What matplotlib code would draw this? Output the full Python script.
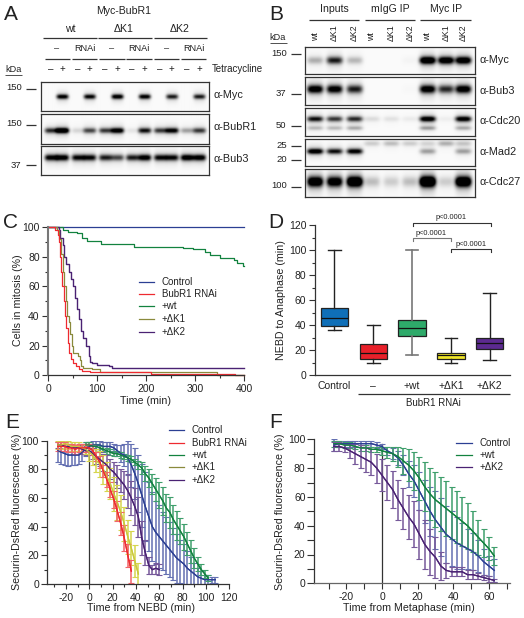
import numpy as np
import matplotlib
matplotlib.use('Agg')
import matplotlib.pyplot as plt
from matplotlib.ticker import MultipleLocator

plt.rcParams['font.family'] = ['Liberation Sans', 'DejaVu Sans']
plt.rcParams['axes.unicode_minus'] = False

W, H = 524, 618

# panel A blot, lane intensities
a_myc = [0, .9, 0, .85, 0, .95, 0, .9, 0, .75, 0, .75]
a_bubr1 = [.7, 1.2, .12, .6, .65, 1, .07, .8, .65, .9, .3, .65]
a_bub3 = [.9, .95, .85, .85, .75, .6, .75, .95, .85, .85, 1, .95]
# panel B blot
b_myc = [.25, .75, .22, 0, 0, .02, 1.2, 1.1, 1.1]
b_bub3 = [1, .95, .75, 0, 0, .01, 1, .7, 1]
b_cdc20 = [.8, .65, .7, .1, .08, .05, 1, .04, .95]
b_cdc20_low = [.2, .2, .25, 0, 0, 0, .3, 0, .25]
b_mad2 = [1, .8, .9, 0, 0, 0, .3, 0, .3]
b_mad2_up = [0, 0, 0, .15, .2, .15, .12, .25, .17]
b_cdc27 = [1.2, 1.1, 1.4, .2, .15, .2, 1.6, .15, 1.4]

# panel C survival steps
c_control_t = [0, 400]
c_control = [100, 100]
c_wt_t = [0, 30, 40, 60, 70, 80, 108, 175, 275, 295, 320, 330, 350, 380, 385, 398, 400]
c_wt = [100, 98, 97, 96, 93, 91, 89, 87, 86, 85, 83, 81, 79.5, 78, 76, 74, 74]
c_rnai_t = [0, 15, 20, 22, 25, 27, 29, 32, 35, 37, 40, 43, 47, 52, 57, 63, 70, 85, 210, 382, 400]
c_rnai = [100, 98, 95, 90, 80, 70, 60, 50, 40, 32, 22, 15, 11, 8, 6, 4, 3, 2, 1, 0, 0]
c_k1_t = [0, 18, 22, 26, 30, 33, 36, 38, 42, 45, 48, 52, 62, 65, 68, 72, 90, 107, 345, 400]
c_k1 = [100, 98, 92, 82, 70, 60, 50, 40, 36, 28, 20, 15, 13, 10, 6, 5, 4, 2, 0, 0]
c_k2_t = [0, 20, 22, 25, 30, 33, 37, 43, 47, 52, 55, 60, 63, 68, 72, 78, 83, 86, 90, 100, 125, 130, 400]
c_k2 = [100, 100, 98, 93, 88, 80, 75, 70, 65, 60, 52, 45, 38, 30, 25, 20, 13, 9, 8, 7, 6, 5, 5]

# panel D box stats
d_labels = ['Control', '–', '+wt', '+ΔK1', '+ΔK2']
d_low = [36, 10, 16, 10, 12]
d_q1 = [39, 13, 31, 13, 21]
d_med = [46, 18, 38, 16, 26]
d_q3 = [54, 25, 44, 18, 30]
d_high = [100, 40, 100, 30, 66]
d_colors = ['#0f6fb8', '#e8202a', '#2eaa6a', '#f0e62a', '#5c2a90']

# panel E, 3 min steps
e_control_t = list(range(-27, 109, 3))
e_control = [93, 92, 91, 90, 90, 90, 90, 92, 94, 96, 97, 97, 97, 96, 96, 96, 95, 93, 91, 90, 88, 83, 77, 70, 62, 54,
             47, 40, 36, 33, 30, 27, 24, 21, 18, 16, 14, 11, 9, 7, 5, 4, 3, 3, 3, 3]
e_control_err = [8, 8, 8, 8, 7, 7, 6, 6, 5, 3, 3, 3, 3, 3, 3, 3, 3, 4, 6, 8, 12, 15, 18, 20, 22, 24,
                 24, 24, 22, 22, 20, 20, 19, 18, 17, 15, 14, 12, 10, 8, 6, 5, 3, 3, 2, 2]
e_rnai_t = list(range(-27, 37, 3))
e_rnai = [96, 96, 96, 95, 95, 94, 95, 95, 95, 95, 93, 89, 85, 79, 73, 66, 59, 51, 42, 32, 20, 9]
e_rnai_err = [3, 3, 3, 3, 3, 3, 3, 3, 3, 3, 3, 3, 4, 4, 5, 5, 6, 7, 8, 9, 8, 8]
e_wt_t = list(range(-3, 103, 3))
e_wt = [97, 97, 96, 96, 95, 94, 93, 92, 91, 91, 90, 89, 88, 87, 85, 83, 81, 77, 74, 70, 66, 62, 58, 53, 50, 45, 41,
        37, 33, 28, 23, 18, 14, 10, 7, 4]
e_wt_err = [2, 2, 2, 2, 2, 2, 2, 2, 2, 2, 2, 2, 2, 2, 2, 3, 4, 5, 6, 7, 8, 9, 10, 10, 11, 10, 10, 9, 9, 8, 8, 7, 5, 4, 3, 2]
e_k1_t = list(range(-27, 43, 3))
e_k1 = [97, 97, 98, 97, 96, 96, 96, 95, 94, 92, 90, 86, 84, 80, 75, 70, 63, 57, 50, 42, 33, 25, 16, 7]
e_k1_err = [3, 3, 3, 3, 3, 3, 3, 3, 3, 6, 7, 8, 9, 10, 10, 11, 12, 12, 12, 12, 12, 12, 11, 8]
e_k2_t = list(range(-27, 61, 3))
e_k2 = [97, 97, 96, 96, 95, 95, 95, 94, 93, 93, 91, 89, 87, 85, 83, 80, 78, 75, 72, 69, 65, 60, 54, 47, 32, 22, 13, 10, 11, 10]
e_k2_err = [2, 2, 2, 2, 2, 2, 2, 3, 3, 3, 4, 5, 5, 6, 7, 7, 7, 8, 8, 10, 12, 12, 13, 14, 12, 9, 6, 3, 4, 4]

# panel F, 3 min steps
f_t = list(range(-27, 64, 3))
f_control = [96, 97, 97, 97, 97, 97, 97, 97, 96, 95, 92, 90, 87, 82, 76, 71, 64, 57, 50, 44, 39, 34, 31, 28, 26, 24, 22, 19, 15, 12, 9]
f_control_err = [4, 2, 2, 2, 2, 2, 2, 2, 2, 2, 3, 4, 5, 7, 9, 11, 13, 15, 17, 20, 20, 20, 19, 18, 16, 14, 13, 11, 9, 7, 8]
f_wt = [97, 97, 96, 96, 95, 94, 94, 93, 93, 92, 91, 90, 88, 85, 82, 78, 73, 67, 62, 58, 55, 52, 49, 46, 43, 40, 36, 32, 28, 24, 19]
f_wt_err = [2, 2, 2, 2, 2, 2, 2, 2, 2, 3, 4, 5, 7, 9, 11, 13, 15, 17, 18, 19, 19, 19, 18, 18, 17, 16, 14, 12, 10, 8, 6]
f_k2 = [95, 95, 94, 92, 90, 88, 86, 84, 80, 75, 70, 65, 58, 52, 46, 41, 34, 27, 22, 18, 12, 9, 8, 8, 8, 6, 6, 5, 4, 3, 2]
f_k2_err = [3, 3, 3, 5, 7, 8, 9, 9, 10, 11, 12, 13, 14, 14, 15, 16, 17, 17, 16, 14, 10, 5, 3, 3, 3, 3, 3, 2, 2, 2, 1]

BLUE, RED, GREEN, YELLOW, OLIVE, PURPLE = '#2b3f93', '#ee2a30', '#12823f', '#c9c93a', '#8a8a3c', '#4a2273'
TXT = '#222222'

fig = plt.figure(figsize=(W / 100, H / 100), dpi=100)


def px_ax(l, t, r, b):
    return fig.add_axes([l / W, 1 - b / H, (r - l) / W, (b - t) / H])


def blot(box, lanes, bands, lane_w=9):
    # bands: (y pixel, lane intensities, thickness)
    l, t, r, b = box
    ax = px_ax(l, t, r, b)
    xx, yy = np.meshgrid(np.linspace(l, r, 340), np.linspace(t, b, 120))
    img = np.zeros_like(xx)
    for y0, vals, thick in bands:
        for x0, v in zip(lanes, vals):
            px = np.exp(-((xx - x0) / lane_w) ** 4)
            py = np.exp(-((yy - y0) / thick) ** 2) + 0.18 * np.exp(-((yy - y0) / (thick * 2.4)) ** 2)
            img += v * px * py
    img = np.clip(1 - img * 1.05, 0, 1) * 0.98
    ax.imshow(img, cmap='gray', vmin=0, vmax=1, extent=[l, r, b, t], aspect='auto', interpolation='bilinear')
    ax.set_xticks([])
    ax.set_yticks([])
    for s in ax.spines.values():
        s.set_linewidth(0.9)
        s.set_color('#333333')


lanes_a = [50.7, 62, 77.7, 89.3, 105, 117, 132, 144.3, 160, 171.7, 186.7, 199]
lanes_b = [315.3, 334.7, 354.7, 372, 391.3, 410, 427.7, 446, 463.3]
blot((40.7, 81.7, 209.3, 111), lanes_a, [(97, a_myc, 2.3)], 6)
blot((40.7, 114.3, 209.3, 144), lanes_a, [(130.7, a_bubr1, 2.6)], 6.5)
blot((40.7, 145.7, 209.3, 175), lanes_a, [(158, a_bub3, 3)], 6.5)
blot((305.3, 46.7, 474.7, 74), lanes_b, [(60.7, b_myc, 3.5)], 8)
blot((305.3, 77.3, 474.7, 105), lanes_b, [(89.3, b_bub3, 4)], 8)
blot((305.3, 108.3, 474.7, 135.7), lanes_b, [(119, b_cdc20, 2.6), (128, b_cdc20_low, 2)], 8)
blot((305.3, 139, 474.7, 166.3), lanes_b, [(152, b_mad2, 2.6), (144.3, b_mad2_up, 2.5)], 8)
blot((305.3, 169.3, 474.7, 197.3), lanes_b, [(182, b_cdc27, 5)], 8)


def style(ax):
    ax.spines['top'].set_visible(False)
    ax.spines['right'].set_visible(False)
    for s in ['left', 'bottom']:
        ax.spines[s].set_linewidth(0.9)
        ax.spines[s].set_color('#333333')
    ax.tick_params(which='major', length=4.5, width=0.8, labelsize=7.5, pad=1.5, color='#333333', labelcolor=TXT)
    ax.tick_params(which='minor', length=2.5, width=0.8, color='#333333')
    ax.patch.set_alpha(0)


# C
ax = px_ax(48, 227.3, 244, 375.3)
ax.step(c_control_t, c_control, where='post', color=BLUE, lw=0.9, clip_on=False)
ax.step(c_wt_t, c_wt, where='post', color=GREEN, lw=0.9, clip_on=False)
ax.step(c_k2_t, c_k2, where='post', color=PURPLE, lw=1.0, clip_on=False)
ax.step(c_k1_t, c_k1, where='post', color=OLIVE, lw=0.9, clip_on=False)
ax.step(c_rnai_t, c_rnai, where='post', color=RED, lw=0.9, clip_on=False)
ax.set_xlim(0, 400)
ax.set_ylim(0, 100)
ax.xaxis.set_major_locator(MultipleLocator(100))
ax.xaxis.set_minor_locator(MultipleLocator(50))
ax.yaxis.set_major_locator(MultipleLocator(20))
ax.yaxis.set_minor_locator(MultipleLocator(10))
style(ax)
ax.spines['left'].set_linewidth(1.5)
ax.spines['left'].set_color('#777777')

# D
ax = px_ax(314.7, 225, 510, 375.3)
stats = []
for i in range(5):
    stats.append({'med': d_med[i], 'q1': d_q1[i], 'q3': d_q3[i], 'whislo': d_low[i], 'whishi': d_high[i], 'fliers': []})
bp = ax.bxp(stats, positions=range(1, 6), widths=0.7, patch_artist=True, showfliers=False,
            boxprops=dict(linewidth=0.9, edgecolor='#222222'),
            medianprops=dict(color='#111111', linewidth=0.9),
            whiskerprops=dict(color='#222222', linewidth=1.0),
            capprops=dict(color='#222222', linewidth=1.0), capwidths=0.33)
for patch, c in zip(bp['boxes'], d_colors):
    patch.set_facecolor(c)
for art in bp['whiskers'][4:6] + bp['caps'][4:6]:
    art.set_color('#777777')
    art.set_linewidth(1.2)
ax.set_xlim(0.494, 5.52)
ax.set_ylim(0, 120)
ax.set_xticks(range(1, 6))
ax.set_xticklabels(d_labels)
ax.yaxis.set_major_locator(MultipleLocator(20))
ax.yaxis.set_minor_locator(MultipleLocator(10))
style(ax)
ax.tick_params(axis='x', length=0, pad=4)


def series(ax, t, m, e, color, ecolor=None):
    ax.errorbar(t, m, yerr=e, color=color, lw=0.9, ecolor=ecolor or color, elinewidth=1.1, capsize=2,
                capthick=0.8, clip_on=True)
    ax.plot(t, m, color=color, lw=0.9)


# E
ax = px_ax(47.3, 440.7, 229.3, 584)
ax.axvline(0, color='#333333', lw=0.9, ymax=0.98)
series(ax, e_control_t, e_control, e_control_err, BLUE, '#6470b2')
series(ax, e_wt_t, e_wt, e_wt_err, GREEN, '#3f9f6c')
series(ax, e_k2_t, e_k2, e_k2_err, PURPLE, '#76599a')
series(ax, e_k1_t, e_k1, e_k1_err, YELLOW, '#d6d64e')
series(ax, e_rnai_t, e_rnai, e_rnai_err, RED, '#f2646a')
ax.set_xlim(-36, 120)
ax.set_ylim(0, 100)
ax.set_xticks(range(-20, 121, 20))
ax.xaxis.set_minor_locator(MultipleLocator(10))
ax.yaxis.set_major_locator(MultipleLocator(20))
ax.yaxis.set_minor_locator(MultipleLocator(10))
style(ax)
ax.tick_params(axis='x', which='major', length=3.5, pad=3)

# F
ax = px_ax(314.3, 439.3, 510.3, 583.3)
ax.axvline(0, color='#333333', lw=0.9, ymax=0.97)
series(ax, f_t, f_control, f_control_err, BLUE, '#6470b2')
series(ax, f_t, f_wt, f_wt_err, GREEN, '#3f9f6c')
series(ax, f_t, f_k2, f_k2_err, PURPLE, '#76599a')
ax.set_xlim(-38, 72)
ax.set_ylim(0, 100)
ax.set_xticks(range(-20, 61, 20))
ax.xaxis.set_minor_locator(MultipleLocator(10))
ax.yaxis.set_major_locator(MultipleLocator(20))
ax.yaxis.set_minor_locator(MultipleLocator(10))
style(ax)
ax.spines['bottom'].set_color('#666666')
ax.tick_params(axis='x', which='both', length=4, direction='out', pad=2.5)
ax.tick_params(axis='y', which='both', length=4.8)

# overlay in pixel coordinates for the labels
ov = fig.add_axes([0, 0, 1, 1], zorder=10)
ov.set_xlim(0, W)
ov.set_ylim(H, 0)
ov.axis('off')


def t(x, y, s, size=7.3, ha='center', **kw):
    ov.text(x, y, s, fontsize=size, ha=ha, va='center', color=TXT, **kw)


def hline(x0, x1, y, lw=0.9):
    ov.plot([x0, x1], [y, y], color='#333333', lw=lw, solid_capstyle='butt')


def bracket(x0, x1, y, color='#333333'):
    ov.plot([x0, x0, x1, x1], [y + 3, y, y, y + 3], color=color, lw=0.8)


for s, x, y in [('A', 11, 15), ('B', 276, 15), ('C', 10.5, 222), ('D', 276, 222), ('E', 12, 423), ('F', 276, 423)]:
    t(x, y, s, size=15)

# panel A header
t(124, 10.5, 'Myc-BubR1', 7.6)
for x, s, x0, x1 in [(70, 'wt', 43, 97), (124, 'ΔK1', 98, 152), (180, 'ΔK2', 154, 207)]:
    t(x, 29, s, 7.6)
    hline(x0, x1, 38)
for x, s, x0, x1 in [(57, '–', 45, 70), (84.5, 'RNAi', 72, 97), (112, '–', 99, 125), (139, 'RNAi', 126, 152),
                     (166.5, '–', 154, 179), (194, 'RNAi', 181, 206)]:
    t(x, 48.5, s, 6.6)
    hline(x0, x1, 59)
for i, x in enumerate(lanes_a):
    t(x, 69, '+' if i % 2 else '–', 7)
t(212, 69, 'Tetracycline', 7, ha='left')
t(13.5, 69, 'kDa', 6.6)
hline(5, 22, 74.5, 0.6)
for x, y, s in [(14, 88, '150'), (14, 124, '150'), (16, 165, '37')]:
    t(x, y, s, 6.8)
for y in [88.5, 124.5, 165]:
    hline(26, 36, y)
for y, s in [(95.5, 'α-Myc'), (127.5, 'α-BubR1'), (159, 'α-Bub3')]:
    t(214, y, s, 7.8, ha='left')

# panel B header
for x, s, x0, x1 in [(334.5, 'Inputs', 309, 359), (390.5, 'mIgG IP', 365, 415), (446, 'Myc IP', 420, 471)]:
    t(x, 9.5, s, 7.6)
    hline(x0, x1, 19.5)
for i, x in enumerate(lanes_b):
    ov.text(x, 41, ['wt', 'ΔK1', 'ΔK2'][i % 3], fontsize=6.3, rotation=90, ha='center', va='bottom', color=TXT)
t(278, 38, 'kDa', 6.6)
hline(270, 287, 42.5, 0.6)
for x, y, s in [(279, 54, '150'), (281, 93, '37'), (281, 125, '50'), (282, 145.5, '25'), (282, 159, '20'), (279, 186, '100')]:
    t(x, y, s, 6.8)
for y in [54, 94, 126, 146, 159.5, 186.5]:
    hline(291, 301, y)
for y, s in [(60, 'α-Myc'), (91, 'α-Bub3'), (121, 'α-Cdc20'), (152, 'α-Mad2'), (182, 'α-Cdc27')]:
    t(479, y, s, 7.8, ha='left')

# C labels
t(18.5, 300, 'Cells in mitosis (%)', 7.7, rotation=90)
t(146, 401, 'Time (min)', 7.7)
c_names = ['Control', 'BubR1 RNAi', '+wt', '+ΔK1', '+ΔK2']
for y, s, c in zip([282.3, 294.3, 306.3, 319, 331.7], c_names, [BLUE, RED, GREEN, OLIVE, PURPLE]):
    ov.plot([138.7, 154.3], [y, y], color=c, lw=0.9)
    t(162, y, s, 7, ha='left')

# D labels
t(281, 300, 'NEBD to Anaphase (min)', 7.7, rotation=90)
hline(358, 509.7, 393.7)
t(433, 402.5, 'BubR1 RNAi', 7)
bracket(412.7, 491.3, 223.3)
bracket(412.7, 451.3, 238.3, '#777777')
bracket(451.3, 491.3, 249)
t(451, 217.7, 'p<0.0001', 5.3)
t(431.3, 233.7, 'p<0.0001', 5.3)
t(471.3, 244, 'p<0.0001', 5.3)

# E labels
t(17.5, 511.7, 'Securin-DsRed fluorescence (%)', 7.7, rotation=90)
t(141, 608, 'Time from NEBD (min)', 7.7)
for y, s, c in zip([430, 442.7, 455, 467.3, 479.7], c_names, [BLUE, RED, GREEN, OLIVE, PURPLE]):
    ov.plot([169, 184], [y, y], color=c, lw=0.9)
    t(192, y, s, 7, ha='left')

# F labels
t(280, 511.7, 'Securin-DsRed fluorescence (%)', 7.7, rotation=90)
t(408.7, 608, 'Time from Metaphase (min)', 7.7)
f_names = ['Control', '+wt', '+ΔK2']
for y, s, c in zip([442.7, 454.7, 467], f_names, [BLUE, GREEN, PURPLE]):
    ov.plot([456.3, 472], [y, y], color=c, lw=0.9)
    t(479.3, y, s, 7, ha='left')

fig.savefig('out.png', dpi=100)
